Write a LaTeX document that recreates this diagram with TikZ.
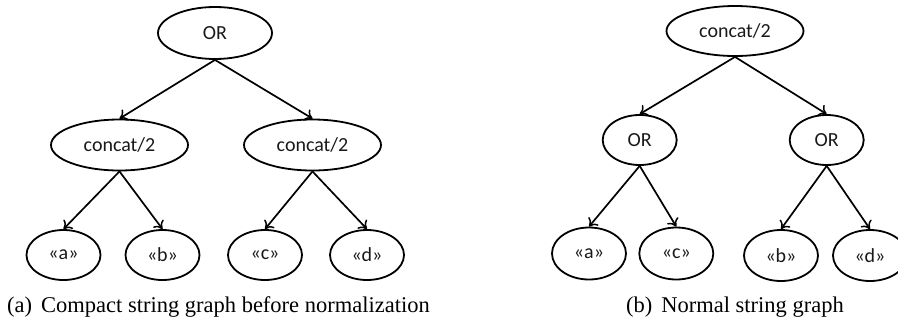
\documentclass[tikz,border=0pt]{standalone}
\usepackage{fontspec}
\setmainfont{Liberation Serif}
\newfontfamily\nodefont{Carlito}
\usetikzlibrary{shapes.geometric,arrows.meta}

\tikzset{
  term/.style={ellipse, draw=black, line width=1.8pt, inner sep=0pt,
    minimum width=#1, minimum height=50pt,
    font=\nodefont\fontsize{20}{24}\selectfont, text=black!90},
  term/.default=74pt,
  edge/.style={line width=1.7pt, -{To[length=7.5pt,width=13pt,line width=1.5pt]}},
  caption/.style={anchor=base, font=\fontsize{22.5}{27}\selectfont, inner sep=0pt}
}

\begin{document}
\begin{tikzpicture}[x=1pt, y=-1pt]
  \useasboundingbox (0,0) rectangle (898,322);

  % (a) compact graph: OR over two concatenations
  \node[term=114pt, minimum height=52pt] (aor) at (215,33) {OR};
  \node[term=137pt, minimum height=51pt] (acl) at (119.5,145) {concat/2};
  \node[term=137pt, minimum height=51pt] (acr) at (312.5,145) {concat/2};
  \node[term] (aa) at (63.5,255) {«a»};
  \node[term] (ab) at (162.5,255) {«b»};
  \node[term] (ac) at (265,255) {«c»};
  \node[term] (ad) at (367,255) {«d»};

  \draw[edge] (aor.south) -- (acl.north);
  \draw[edge] (aor.south) -- (acr.north);
  \draw[edge] (acl.south) -- (aa.north);
  \draw[edge] (acl.south) -- (ab.north);
  \draw[edge] (acr.south) -- (ac.north);
  \draw[edge] (acr.south) -- (ad.north);

  \node[caption] (capa) at (218.5,312) {(a)\hspace{0.4em}Compact string graph before normalization};

  % (b) normal graph: concatenation over two ORs
  \node[term=137pt] (bcat) at (735,31) {concat/2};
  \node[term] (bol) at (639.7,140) {OR};
  \node[term] (bor) at (826.7,140) {OR};
  \node[term, minimum height=52pt] (ba) at (589,253.5) {«a»};
  \node[term, minimum height=52pt] (bc) at (676.3,253.5) {«c»};
  \node[term, minimum height=51pt] (bb) at (781,255.5) {«b»};
  \node[term, minimum height=51pt] (bd) at (870,255.5) {«d»};

  \draw[edge] (bcat.south) -- (bol.north);
  \draw[edge] (bcat.south) -- (bor.north);
  \draw[edge] (bol.south) -- (ba.north);
  \draw[edge] (bol.south) -- (bc.north);
  \draw[edge] (bor.south) -- (bb.north);
  \draw[edge] (bor.south) -- (bd.north);

  \node[caption] (capb) at (735,312) {(b)\hspace{0.4em}Normal string graph};
\end{tikzpicture}
\end{document}
